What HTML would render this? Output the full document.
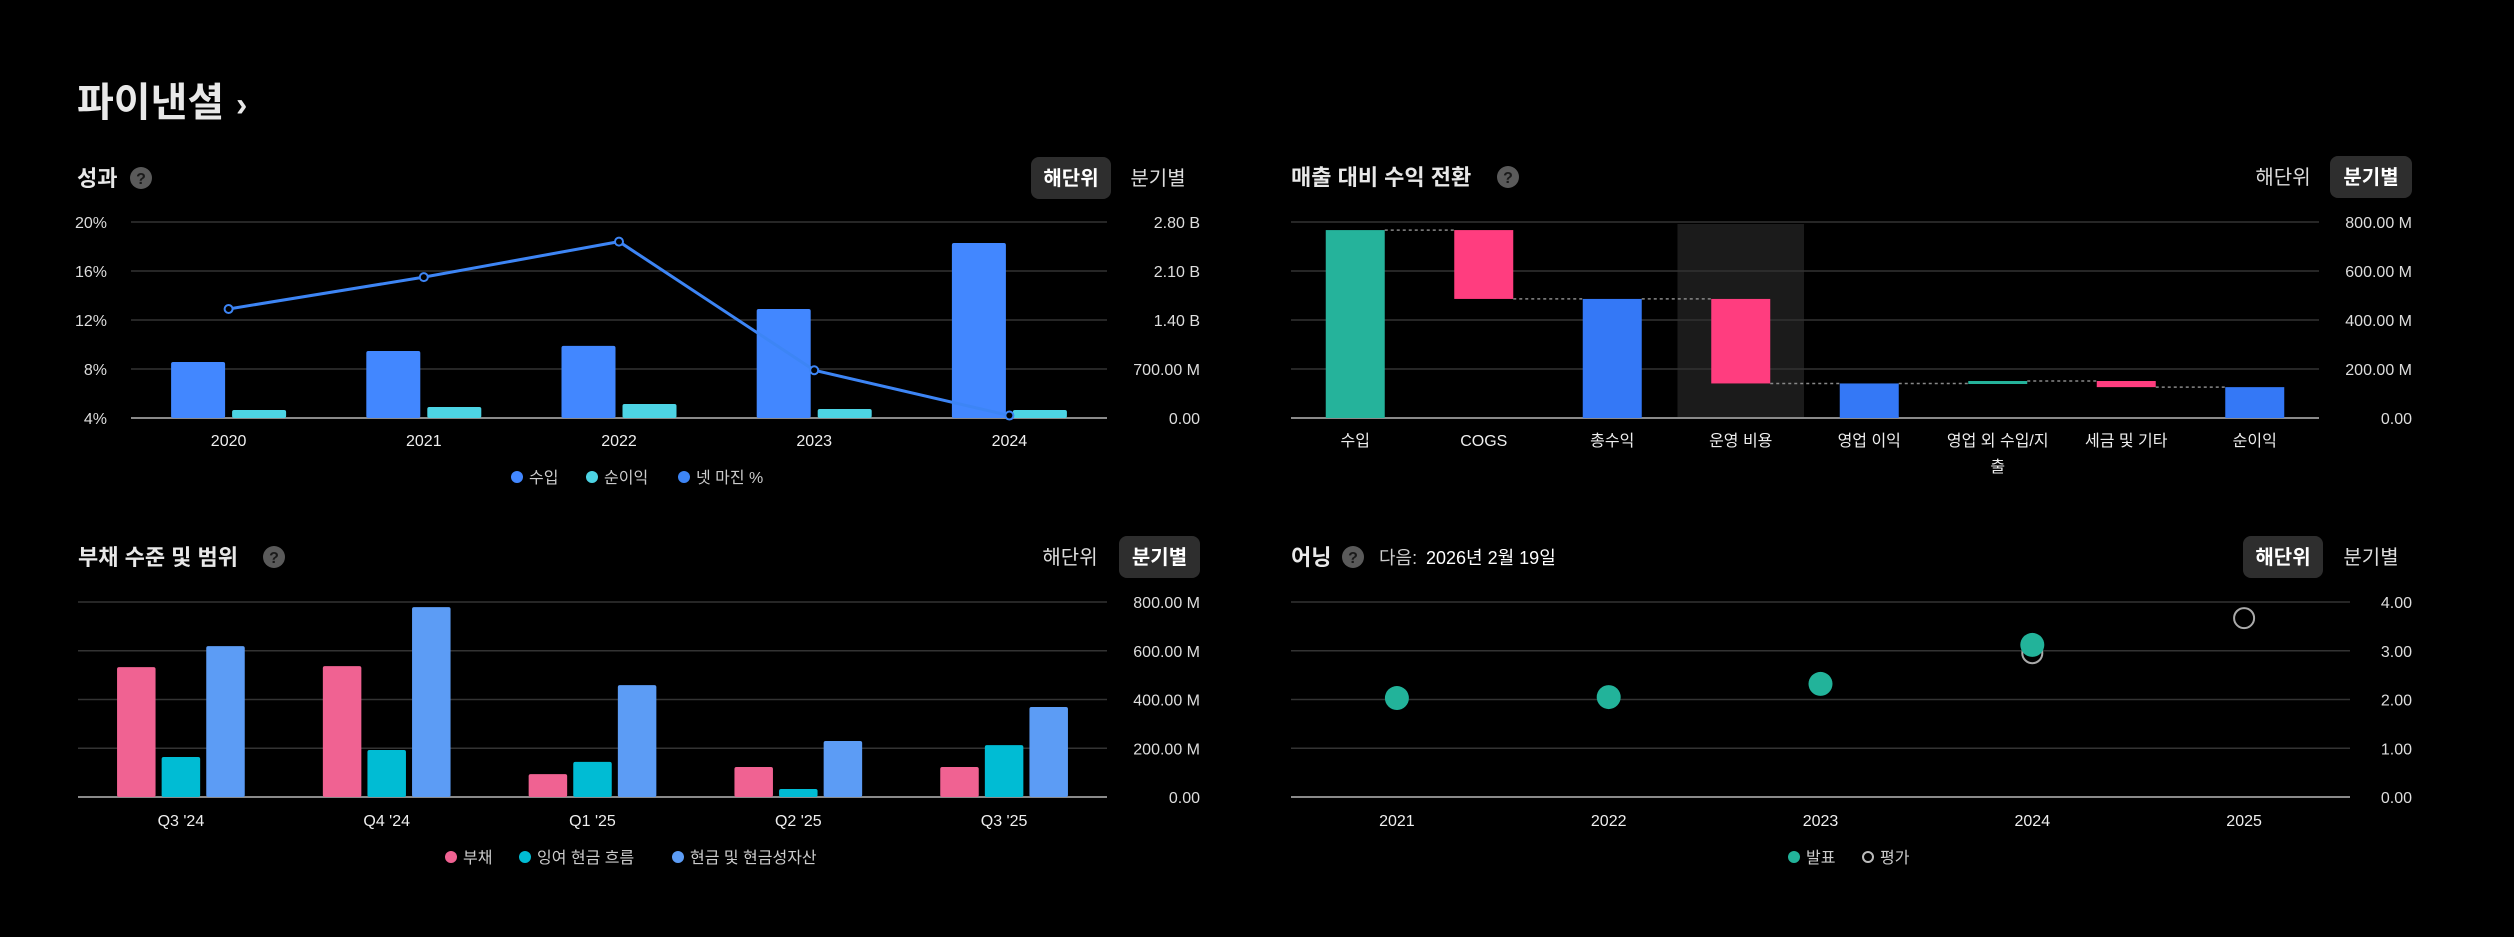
<!DOCTYPE html>
<html><head><meta charset="utf-8"><style>
html,body{margin:0;padding:0;background:#000;}
svg{display:block;font-family:"Liberation Sans","Noto Sans CJK KR",sans-serif;}
</style></head><body>
<svg id="s" width="2514" height="937" viewBox="0 0 2514 937" xmlns="http://www.w3.org/2000/svg">
<rect width="2514" height="937" fill="#000"/>
<g>
<text x="77" y="116" font-size="40" font-weight="bold" fill="#e8e8e8">파이낸셜</text>
<text x="236" y="116" font-size="34" font-weight="bold" fill="#e8e8e8">›</text>
</g>
<g id="p1"></g>
<g id="p2"></g>
<g id="p3"></g>
<g id="p4"></g>
</svg>
<script>
// ---- Performance data ----
const perfYears = ["2020","2021","2022","2023","2024"];
const perfRevenue = [0.80,0.957,1.03,1.557,2.50]; // B
const perfNetIncome = [0.114,0.157,0.20,0.129,0.114]; // B
const perfMargin = [12.9,15.5,18.4,7.9,4.2]; // %
const perfLeftTicks = ["4%","8%","12%","16%","20%"];
const perfRightTicks = ["0.00","700.00 M","1.40 B","2.10 B","2.80 B"];
// ---- Waterfall data ----
const wfCats = ["수입","COGS","총수익","운영 비용","영업 이익","영업 외 수입/지|출","세금 및 기타","순이익"];
const wfValues = [767,-281,486,-345,141,10,-25,126]; // M
const wfTotals = [true,false,true,false,true,false,false,true];
const wfTicks = ["0.00","200.00 M","400.00 M","600.00 M","800.00 M"];
// ---- Debt data ----
const debtCats = ["Q3 '24","Q4 '24","Q1 '25","Q2 '25","Q3 '25"];
const debtDebt = [533,537,94,123,123];
const debtFCF = [164,193,144,33,213];
const debtCash = [619,779,459,230,369];
const debtTicks = ["0.00","200.00 M","400.00 M","600.00 M","800.00 M"];
// ---- Earnings data ----
const earnYears = ["2021","2022","2023","2024","2025"];
const earnReported = [2.03,2.05,2.32,3.12,null];
const earnEstimate = [null,null,null,2.95,3.67];
const earnTicks = ["0.00","1.00","2.00","3.00","4.00"];

const NS="http://www.w3.org/2000/svg";
function mk(parent,tag,attrs,text){const e=document.createElementNS(NS,tag);for(const k in attrs)e.setAttribute(k,attrs[k]);if(text!==undefined)e.textContent=text;parent.appendChild(e);return e;}
function header(g,x,y,title,qx,btns,activeIdx){
  const t=mk(g,'text',{x:x,y:y+8,'font-size':22,'font-weight':'bold',fill:'#e8e8e8'},title);
  
  
  const q=mk(g,'g',{});
  
  
  mk(q,'circle',{cx:qx,cy:y,r:11,fill:'#5a5a5a'});
  mk(q,'text',{x:qx,y:y+6,'font-size':16,'font-weight':'bold','text-anchor':'middle',fill:'#1a1a1a'},'?');
  btns.forEach((b,i)=>{
    const bg=mk(g,'g',{});
    
    
    if(i===activeIdx) mk(bg,'rect',{x:b.x,y:y-21,width:b.w,height:42,rx:8,fill:'#2e2e2e'});
    mk(bg,'text',{x:b.x+b.w/2,y:y+7,'font-size':20,'font-weight':i===activeIdx?'bold':'normal','text-anchor':'middle',fill:i===activeIdx?'#fff':'#ddd'},b.t);
  });
}
function grid(g,x0,x1,ys,base){
  ys.forEach((y,i)=>{const l=mk(g,'line',{x1:x0,x2:x1,y1:y,y2:y,stroke:i===0?'#8a8a8a':'#333','stroke-width':i===0?2:1.5});
    
    });
}
function legend(g,items,y){
  items.forEach(it=>{
    const lg=mk(g,'g',{});
    
    
    if(it.hollow) mk(lg,'circle',{cx:it.x,cy:y,r:5,fill:'none',stroke:'#bbb','stroke-width':2});
    else mk(lg,'circle',{cx:it.x,cy:y,r:6,fill:it.c});
    mk(lg,'text',{x:it.x+12,y:y+6,'font-size':16,fill:'#ccc'},it.t);
  });
}
function lineY(v,vmin,vmax,yb,yt){return yb-(v-vmin)/(vmax-vmin)*(yb-yt);}

// ===== Panel 1 =====
(function(){
  const g=document.getElementById('p1');
  header(g,77,178,'성과',141,[{x:1031,w:80,t:'해단위'},{x:1120,w:76,t:'분기별'}],0);
  const x0=131,x1=1107,yb=418,yt=222;
  const ys=[0,1,2,3,4].map(i=>yb-i*(yb-yt)/4);
  grid(g,x0,x1,ys);
  perfLeftTicks.forEach((t,i)=>{const e=mk(g,'text',{x:107,y:ys[i]+6,'font-size':16,fill:'#ddd','text-anchor':'end'},t);
    });
  perfRightTicks.forEach((t,i)=>{const e=mk(g,'text',{x:1200,y:ys[i]+6,'font-size':16,fill:'#ddd','text-anchor':'end'},t);
    });
  const bw=(x1-x0)/perfYears.length;
  const ry=v=>lineY(v,0,2.8,yb,yt);
  const my=v=>lineY(v,4,20,yb,yt);
  perfYears.forEach((c,i)=>{
    const cx=x0+bw*(i+0.5);
    const r1=mk(g,'rect',{x:cx-57.5,y:ry(perfRevenue[i]),width:54,height:yb-ry(perfRevenue[i]),fill:'#4287ff',rx:2});
    
    const r2=mk(g,'rect',{x:cx+3.5,y:ry(perfNetIncome[i]),width:54,height:yb-ry(perfNetIncome[i]),fill:'#4dd4e4',rx:2});
    
    const t=mk(g,'text',{x:cx,y:446,'font-size':16,fill:'#eee','text-anchor':'middle'},c);
    
  });
  const pts=perfMargin.map((v,i)=>[x0+bw*(i+0.5),my(v)]);
  const pl=mk(g,'polyline',{points:pts.map(p=>p.join(',')).join(' '),fill:'none',stroke:'#3d85f5','stroke-width':3});
  
  pts.forEach(p=>{const c=mk(g,'circle',{cx:p[0],cy:p[1],r:4,fill:'#000',stroke:'#3d85f5','stroke-width':2});
    });
  legend(g,[{x:517,c:'#4287ff',t:'수입'},{x:592,c:'#4dd4e4',t:'순이익'},{x:684,c:'#3d85f5',t:'넷 마진 %'}],477);
})();

// ===== Panel 2 =====
(function(){
  const g=document.getElementById('p2');
  header(g,1291,177,'매출 대비 수익 전환',1508,[{x:2244,w:78,t:'해단위'},{x:2330,w:82,t:'분기별'}],1);
  const x0=1291,x1=2319,yb=418,yt=222;
  const ys=[0,1,2,3,4].map(i=>yb-i*(yb-yt)/4);
  const bw=(x1-x0)/wfCats.length;
  const hl=mk(g,'rect',{x:x0+bw*3+1,y:224,width:bw-2,height:yb-224,fill:'#1b1b1b'});
  
  grid(g,x0,x1,ys);
  wfTicks.forEach((t,i)=>{const e=mk(g,'text',{x:2412,y:ys[i]+6,'font-size':16,fill:'#ddd','text-anchor':'end'},t);
    });
  const y=v=>lineY(v,0,800,yb,yt);
  let run=0,prevEnd=null,prevX=null;
  wfCats.forEach((c,i)=>{
    const cx=x0+bw*(i+0.5);
    let a,b,col;
    if(wfTotals[i]){a=0;b=wfValues[i];run=b;col=i===0?'#25b39b':'#3478f6';}
    else{a=run;b=run+wfValues[i];run=b;col=wfValues[i]<0?'#ff3d7f':'#25b39b';}
    const top=y(Math.max(a,b)),bot=y(Math.min(a,b));
    if(prevEnd!==null){
      const st=wfTotals[i]?b:a;
      const l=mk(g,'line',{x1:prevX,x2:cx-29.5,y1:y(st),y2:y(st),stroke:'#888','stroke-width':1.5,'stroke-dasharray':'3,3'});
      
    }
    const r=mk(g,'rect',{x:cx-29.5,y:top,width:59,height:Math.max(bot-top,3),fill:col});
    
    prevEnd=run;prevX=cx+29.5;
    const parts=c.split('|');
    parts.forEach((p,k)=>{const t=mk(g,'text',{x:cx,y:446+k*26,'font-size':16,fill:'#eee','text-anchor':'middle'},p);
      });
  });
})();

// ===== Panel 3 =====
(function(){
  const g=document.getElementById('p3');
  header(g,78,557,'부채 수준 및 범위',274,[{x:1031,w:78,t:'해단위'},{x:1119,w:81,t:'분기별'}],1);
  const x0=78,x1=1107,yb=797,yt=602;
  const ys=[0,1,2,3,4].map(i=>yb-i*(yb-yt)/4);
  grid(g,x0,x1,ys);
  debtTicks.forEach((t,i)=>{const e=mk(g,'text',{x:1200,y:ys[i]+6,'font-size':16,fill:'#ddd','text-anchor':'end'},t);
    });
  const y=v=>lineY(v,0,800,yb,yt);
  const bw=(x1-x0)/debtCats.length;
  const series=[[debtDebt,'#f06292','debt-bar'],[debtFCF,'#00bcd4','free-cash-flow-bar'],[debtCash,'#5c9cf5','cash-bar']];
  debtCats.forEach((c,i)=>{
    const cx=x0+bw*(i+0.5);
    series.forEach((s,k)=>{
      const bx=cx+(k-1)*44.6-19.25;
      const r=mk(g,'rect',{x:bx,y:y(s[0][i]),width:38.5,height:yb-y(s[0][i]),fill:s[1],rx:2});
      
    });
    const t=mk(g,'text',{x:cx,y:826,'font-size':16,fill:'#eee','text-anchor':'middle'},c);
    
  });
  legend(g,[{x:451,c:'#f06292',t:'부채'},{x:525,c:'#00bcd4',t:'잉여 현금 흐름'},{x:678,c:'#5c9cf5',t:'현금 및 현금성자산'}],857);
})();

// ===== Panel 4 =====
(function(){
  const g=document.getElementById('p4');
  header(g,1291,557,'어닝',1353,[{x:2243,w:80,t:'해단위'},{x:2333,w:76,t:'분기별'}],0);
  const nt=mk(g,'text',{x:1379,y:564,'font-size':18,fill:'#ccc'},'다음: ');
  
  const nd=mk(g,'text',{x:1426,y:564,'font-size':18,fill:'#fff'},'2026년 2월 19일');
  
  const x0=1291,x1=2350,yb=797,yt=602;
  const ys=[0,1,2,3,4].map(i=>yb-i*(yb-yt)/4);
  grid(g,x0,x1,ys);
  earnTicks.forEach((t,i)=>{const e=mk(g,'text',{x:2412,y:ys[i]+6,'font-size':16,fill:'#ddd','text-anchor':'end'},t);
    });
  const y=v=>lineY(v,0,4,yb,yt);
  const bw=(x1-x0)/earnYears.length;
  earnYears.forEach((c,i)=>{
    const cx=x0+bw*(i+0.5);
    if(earnEstimate[i]!==null){const e=mk(g,'circle',{cx:cx,cy:y(earnEstimate[i]),r:10,fill:'none',stroke:'#aaa','stroke-width':2});
      }
    if(earnReported[i]!==null){const e=mk(g,'circle',{cx:cx,cy:y(earnReported[i]),r:12,fill:'#22b39a'});
      }
    const t=mk(g,'text',{x:cx,y:826,'font-size':16,fill:'#eee','text-anchor':'middle'},c);
    
  });
  legend(g,[{x:1794,c:'#22b39a',t:'발표'},{x:1868,hollow:true,t:'평가'}],857);
})();
</script>
</body></html>
